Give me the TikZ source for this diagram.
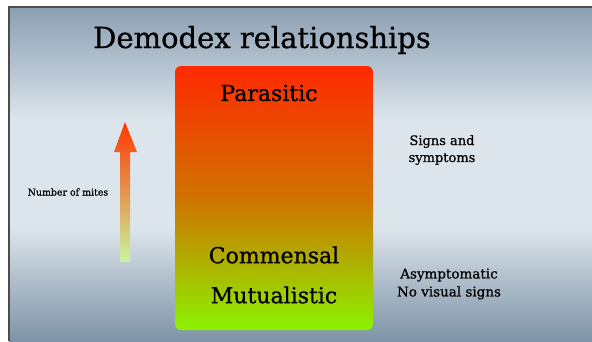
\documentclass[tikz,border=0pt]{standalone}
\usepackage{fontspec}
\setmainfont[FakeBold=0.8]{DejaVu Serif}
\definecolor{slidetop}{HTML}{8CA0B3}
\definecolor{slidemid}{HTML}{DDE5EC}
\definecolor{slidebot}{HTML}{7F94A8}
\definecolor{hotred}{HTML}{FF2A00}
\definecolor{midorange}{HTML}{D07200}
\definecolor{limegreen}{HTML}{8CF200}
\definecolor{palegreen}{HTML}{C8F5A0}
\pgfdeclareverticalshading{slidebg}{100bp}{color(0bp)=(slidebot); color(25bp)=(slidebot); color(33bp)=(slidebot!55!slidemid); color(42bp)=(slidemid); color(58bp)=(slidemid); color(67bp)=(slidetop!55!slidemid); color(75bp)=(slidetop); color(100bp)=(slidetop)}
\begin{document}
\begin{tikzpicture}[x=1pt,y=-1pt]
	\useasboundingbox (0,0) rectangle (592,341);
	\fill[white] (0,0) rectangle (592,341);
	\shade[shading=slidebg] (9,7) rectangle (592,341);
	\draw[line width=1.2,black!70] (9,341) -- (9,7) -- (592,7);
	\coordinate (T) at (262,40);
	\node[font=\fontsize{29}{30}\selectfont] (title) at (T) {Demodex relationships};
	% box
	\shade[rounded corners=6,top color=hotred,bottom color=limegreen,middle color=midorange] (175,66) rectangle (373,330);
	\node[font=\fontsize{22}{24}\selectfont] (para) at (269,93) {Parasitic};
	\node[font=\fontsize{22}{24}\selectfont] (comm) at (274,255) {Commensal};
	\node[font=\fontsize{22}{24}\selectfont] (mutu) at (274,295) {Mutualistic};
	% arrow
	\coordinate (A) at (125,122);
	\coordinate (B) at (125,262);
	\shade[top color=hotred!85!orange,bottom color=palegreen] (120,262) -- (120,152) -- (114,152) -- (A) -- (137,152) -- (130,152) -- (130,262) -- cycle;
	\node[font=\fontsize{9.4}{10}\selectfont] (mites) at (68,192) {Number of mites};
	\node[font=\fontsize{13}{17}\selectfont,align=center] (signs) at (442,150) {Signs and\\symptoms};
	\node[font=\fontsize{13.5}{18}\selectfont,align=center] (asym) at (449,284) {Asymptomatic\\No visual signs};
\end{tikzpicture}
\end{document}
